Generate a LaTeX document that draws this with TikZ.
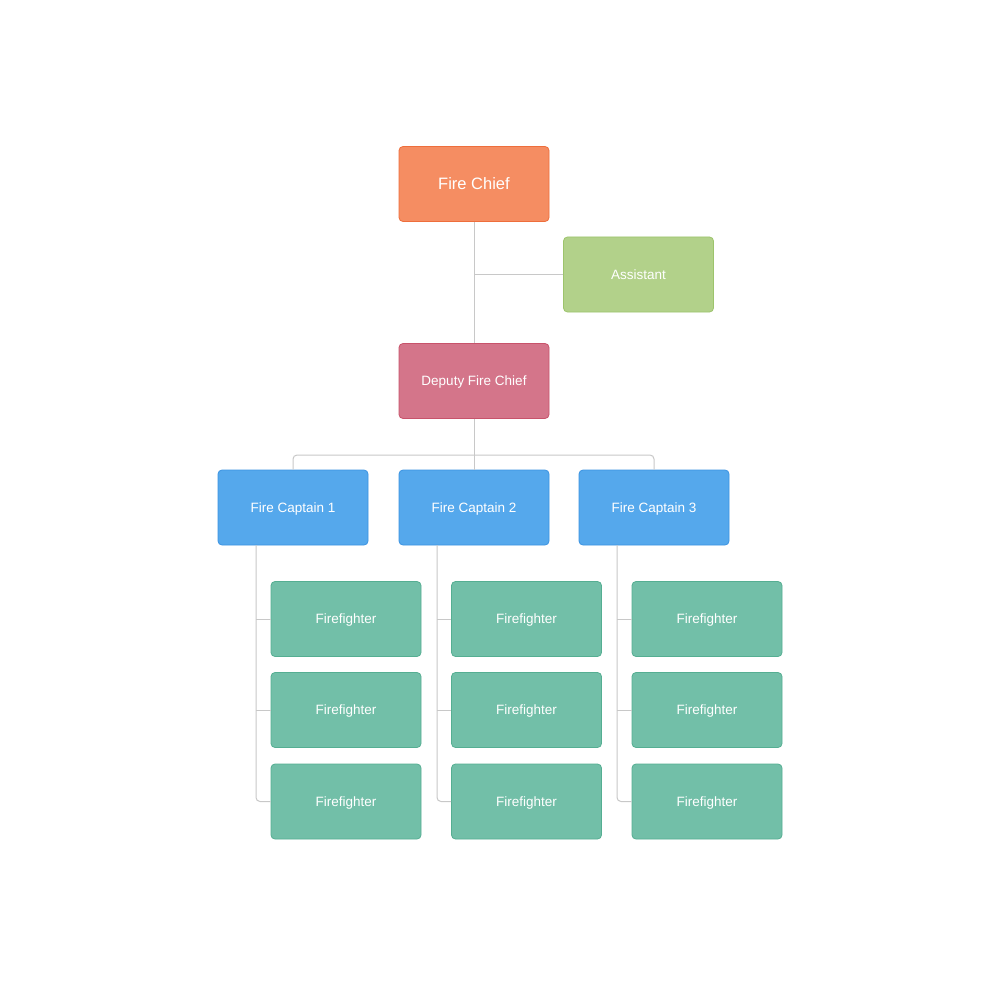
\documentclass[tikz,border=0pt]{standalone}
\usepackage{fontspec}
\setmainfont{Liberation Sans}
\definecolor{chiefF}{HTML}{F58D62}
\definecolor{chiefD}{HTML}{EE6E3C}
\definecolor{asstF}{HTML}{B2D18A}
\definecolor{asstD}{HTML}{9DC46C}
\definecolor{depF}{HTML}{D4758A}
\definecolor{depD}{HTML}{C8536B}
\definecolor{capF}{HTML}{55A8EC}
\definecolor{capD}{HTML}{3B93E2}
\definecolor{ffF}{HTML}{72BFA8}
\definecolor{ffD}{HTML}{55AE92}
\definecolor{lineC}{HTML}{C8C8C8}
\begin{document}
\begin{tikzpicture}[x=1pt,y=-1pt,
  box/.style={rectangle,rounded corners=4pt,minimum width=150pt,minimum height=75pt,
    text=white,font=\fontsize{13.5}{16}\selectfont,line width=0.8pt,inner sep=0pt,
    text depth=0pt,text height=9.7pt},
  chiefbox/.style={box,fill=chiefF,draw=chiefD,font=\fontsize{16.5}{19}\selectfont,text height=11.8pt},
  asstbox/.style={box,fill=asstF,draw=asstD},
  depbox/.style={box,fill=depF,draw=depD},
  captbox/.style={box,fill=capF,draw=capD},
  ffbox/.style={box,fill=ffF,draw=ffD},
  conn/.style={draw=lineC,line width=1pt,rounded corners=4pt}]
\useasboundingbox[fill=white] (0,0) rectangle (1000,1000);
\node[chiefbox] (chief) at (474,184) {Fire Chief};
\node[asstbox] (asst) at (638.5,274.5) {Assistant};
\node[depbox] (dep) at (474,381) {Deputy Fire Chief};
\node[captbox] (c1) at (293,507.5) {Fire Captain 1};
\node[captbox] (c2) at (474,507.5) {Fire Captain 2};
\node[captbox] (c3) at (654,507.5) {Fire Captain 3};
\foreach \c/\x/\lx in {1/346/256,2/526.5/437,3/707/617}{
  \node[ffbox] (f\c a) at (\x,619) {Firefighter};
  \node[ffbox] (f\c b) at (\x,710) {Firefighter};
  \node[ffbox] (f\c c) at (\x,801.5) {Firefighter};
  \coordinate (t\c) at (\lx,545);
}
\draw[conn] (chief.south) -- (dep.north);
\draw[conn] (asst.west) -- (asst.west -| chief.south);
\draw[conn] (dep.south) -- (474,455);
\draw[conn] (c1.north) -- (293,455) -- (654,455) -- (c3.north);
\draw[conn] (474,455) -- (c2.north);
\foreach \c in {1,2,3}{
  \draw[conn] (t\c) |- (f\c c.west);
  \draw[conn] (f\c a.west) -- (f\c a.west -| t\c);
  \draw[conn] (f\c b.west) -- (f\c b.west -| t\c);
}
\end{tikzpicture}
\end{document}
